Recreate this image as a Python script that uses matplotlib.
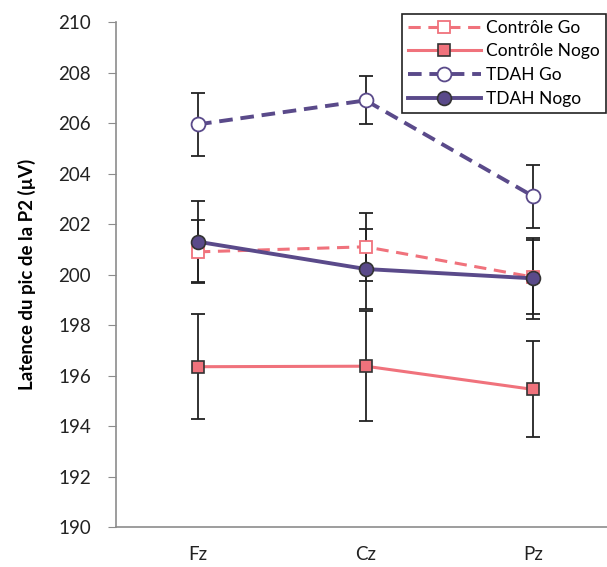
import matplotlib.pyplot as plt

sites = ["Fz", "Cz", "Pz"]

ctrl_go = [200.9, 201.1, 199.9]
ctrl_go_err = [1.25, 1.35, 1.45]
ctrl_nogo = [196.35, 196.37, 195.45]
ctrl_nogo_err = [2.07, 2.17, 1.9]
tdah_go = [205.95, 206.9, 203.1]
tdah_go_err = [1.25, 0.95, 1.25]
tdah_nogo = [201.3, 200.22, 199.85]
tdah_nogo_err = [1.6, 1.6, 1.6]

pink = "#f0727c"
purple = "#5a4a8a"

plt.rcParams["font.family"] = ["Lato", "DejaVu Sans"]

fig = plt.figure(figsize=(6.07, 5.67), dpi=100)
ax = fig.add_axes([0.191, 0.0705, 0.809, 0.8905])

x = list(range(len(sites)))

# error bars first, markers on top
for vals, errs in [(ctrl_go, ctrl_go_err), (ctrl_nogo, ctrl_nogo_err),
                   (tdah_go, tdah_go_err), (tdah_nogo, tdah_nogo_err)]:
    ax.errorbar(x, vals, yerr=errs, fmt="none", ecolor="#222222",
                elinewidth=1.3, capsize=5, capthick=1.3, zorder=2)

ax.plot(x, ctrl_go, color=pink, lw=2.2, ls=(0, (4, 2.5)), marker="s", ms=9,
        mfc="white", mec=pink, mew=1.3, label="Contrôle Go", zorder=3)
ax.plot(x, ctrl_nogo, color=pink, lw=2.2, marker="s", ms=9,
        mfc=pink, mec="#333333", mew=1.2, label="Contrôle Nogo", zorder=3)
ax.plot(x, tdah_go, color=purple, lw=2.8, ls=(0, (3.5, 2)), marker="o", ms=10,
        mfc="white", mec=purple, mew=1.3, label="TDAH Go", zorder=4)
ax.plot(x, tdah_nogo, color=purple, lw=2.8, marker="o", ms=10,
        mfc=purple, mec="#333333", mew=1.2, label="TDAH Nogo", zorder=4)

ax.set_ylim(190, 210)
ax.set_yticks(range(190, 211, 2))
ax.set_xlim(-0.49, 2.44)
ax.set_xticks(x)
ax.set_xticklabels(sites)

for s in ["top", "right"]:
    ax.spines[s].set_visible(False)
for s in ["left", "bottom"]:
    ax.spines[s].set_color("#8c8c8c")
    ax.spines[s].set_linewidth(1.2)
ax.tick_params(axis="y", direction="out", length=6, color="#8c8c8c",
               labelsize=13.5, pad=12, labelcolor="#222222")
ax.tick_params(axis="x", length=0, labelsize=13.5, pad=14, labelcolor="#222222")

ax.set_ylabel("Latence du pic de la P2 (µV)", fontsize=13.5, fontweight="bold",
              labelpad=16)

leg = ax.legend(loc="upper right", bbox_to_anchor=(0.998, 0.976),
                bbox_transform=fig.transFigure, borderaxespad=0,
                fancybox=False, framealpha=1, edgecolor="#222222",
                fontsize=12.5, handlelength=4.2, labelspacing=0.45,
                borderpad=0.35, handletextpad=0.3)
leg.get_frame().set_linewidth(1.2)

fig.savefig("out.png", dpi=100)
